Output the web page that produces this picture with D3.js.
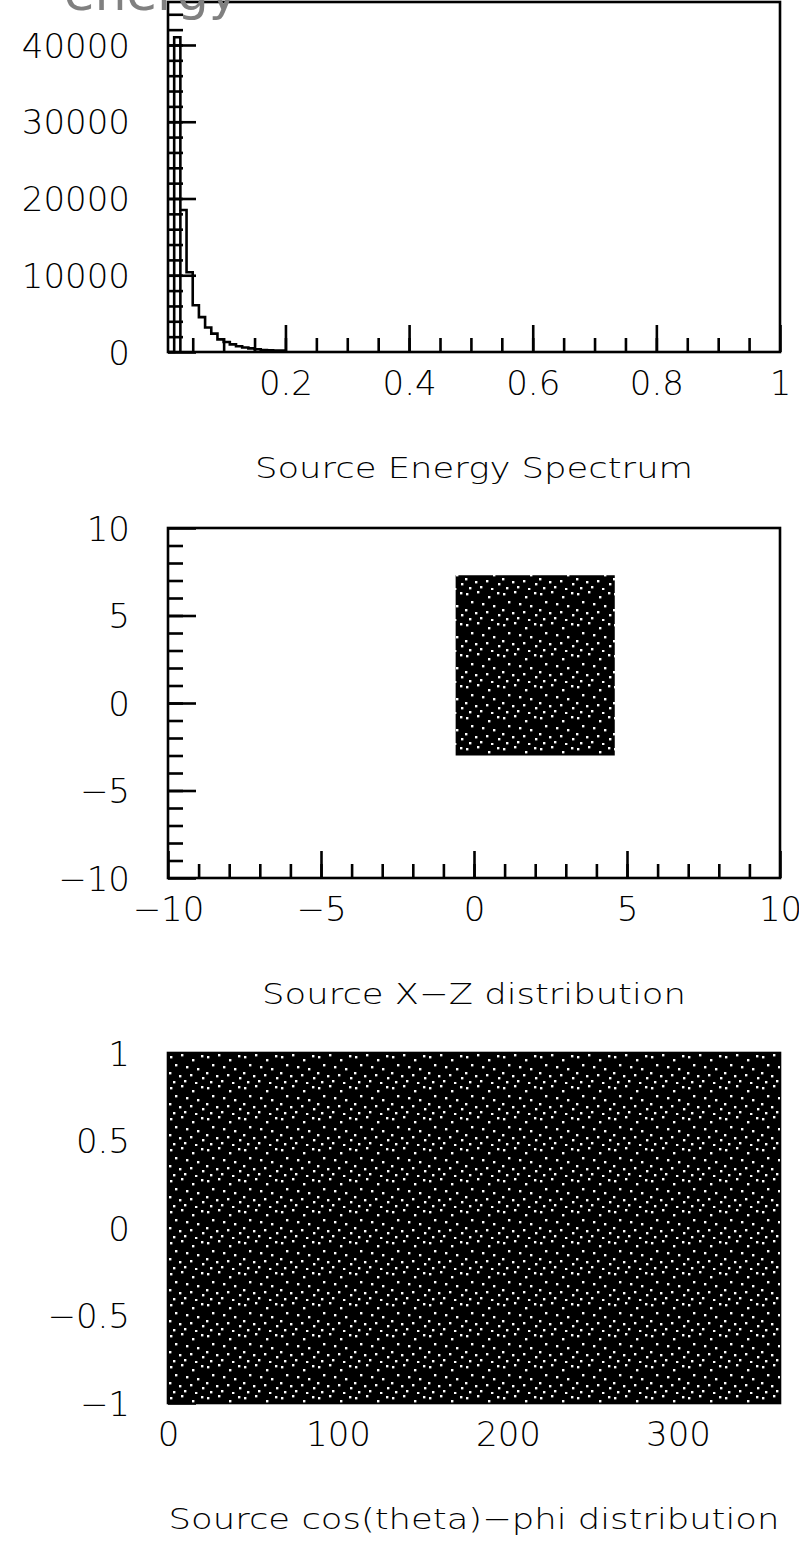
<!DOCTYPE html>
<html>
<head>
<meta charset="utf-8">
<script src="https://cdn.jsdelivr.net/npm/d3@7"></script>
<style>
  body { margin: 0; background: #fff; }
  svg text { font-family: "DejaVu Sans", Verdana, sans-serif; }
</style>
</head>
<body>
<div id="chart"></div>
<script>
// ---- data ----
// energy histogram, bin width 0.01
const energyBinEdges = [0.01, 0.02, 0.03, 0.04, 0.05, 0.06, 0.07, 0.08, 0.09, 0.10,
                        0.11, 0.12, 0.13, 0.14, 0.15, 0.16, 0.17, 0.18, 0.19, 0.20];
const energyCounts = [0, 41000, 18500, 10400, 6100, 4550, 3200, 2400, 1650, 1300,
                      1000, 750, 580, 470, 350, 250, 220, 200, 180];
const energyTicks = [0.2, 0.4, 0.6, 0.8, 1];
const energyTickLabels = ["0.2", "0.4", "0.6", "0.8", "1"];
const countTicks = [0, 10000, 20000, 30000, 40000];
const countTickLabels = ["0", "10000", "20000", "30000", "40000"];

// source X-Z distribution: the points fill a box
const sourceXRange = [-0.6, 4.6];
const sourceZRange = [-3.0, 7.3];
const xzTicks = [-10, -5, 0, 5, 10];
const xzTickLabels = ["\u221210", "\u22125", "0", "5", "10"];

// source cos(theta)-phi distribution: the points fill the whole frame
const phiRange = [0, 360];
const cosThetaRange = [-1, 1];
const phiTicks = [0, 100, 200, 300];
const phiTickLabels = ["0", "100", "200", "300"];
const cosTicks = [-1, -0.5, 0, 0.5, 1];
const cosTickLabels = ["\u22121", "\u22120.5", "0", "0.5", "1"];

const titles = ["Source Energy Spectrum", "Source X\u2212Z distribution",
                "Source cos(theta)\u2212phi distribution"];

// ---- layout ----
const width = 799;
const height = 1546;
const left = 168;
const W = 612;
const H = 350;
const tops = [2, 528, 1053];
const lw = 2.6;

const svg = d3.select("#chart")
    .append("svg")
    .attr("width", width)
    .attr("height", height);

// speckle texture for the densely filled scatter regions
const pat = svg.append("defs").append("pattern")
    .attr("id", "speckle")
    .attr("patternUnits", "userSpaceOnUse")
    .attr("width", 37)
    .attr("height", 31);
pat.append("rect").attr("width", 37).attr("height", 31).attr("fill", "#000");
[[2,3],[13,1],[24,6],[33,2],[7,11],[18,13],[29,15],[1,19],[11,22],[22,21],
 [34,24],[5,28],[16,27],[27,29]].forEach(p => {
    pat.append("rect").attr("x", p[0]).attr("y", p[1])
        .attr("width", 2.4).attr("height", 2.4).attr("fill", "#fff");
});

function makePanel(i, xDomain, yDomain) {
    const g = svg.append("g").attr("transform", `translate(${left},${tops[i]})`);
    const x = d3.scaleLinear().domain(xDomain).range([0, W]);
    const y = d3.scaleLinear().domain(yDomain).range([H, 0]);
    return { g, x, y };
}

function styleAxis(sel) {
    sel.select(".domain").remove();
    sel.selectAll(".tick line").attr("stroke", "#000").attr("stroke-width", lw);
    sel.selectAll("text")
        .attr("fill", "#000")
        .attr("font-size", 34)
        .attr("font-weight", 300)
        .attr("font-family", "DejaVu Sans, sans-serif");
}

function drawAxes(p, o) {
    // minor ticks
    p.g.append("g").attr("transform", `translate(0,${H})`)
        .call(d3.axisBottom(p.x).tickValues(o.xMinor).tickSize(-14).tickFormat(""))
        .call(styleAxis);
    p.g.append("g")
        .call(d3.axisLeft(p.y).tickValues(o.yMinor).tickSize(-15).tickFormat(""))
        .call(styleAxis);
    // major ticks and labels
    p.g.append("g").attr("transform", `translate(0,${H})`)
        .call(d3.axisBottom(p.x).tickValues(o.xMajor).tickSize(-27).tickPadding(19)
            .tickFormat((d, i) => o.xLabels[i]))
        .call(styleAxis);
    p.g.append("g")
        .call(d3.axisLeft(p.y).tickValues(o.yMajor).tickSize(-28).tickPadding(38)
            .tickFormat((d, i) => o.yLabels[i]))
        .call(styleAxis)
        .call(s => s.selectAll("text").attr("dy", "0.36em"));
}

function drawFrame(p) {
    p.g.append("rect")
        .attr("width", W).attr("height", H)
        .attr("fill", "none").attr("stroke", "#000").attr("stroke-width", lw);
}

function drawTitle(i) {
    const t = svg.append("text")
        .attr("x", left + W / 2)
        .attr("y", tops[i] + H + 126)
        .attr("text-anchor", "middle")
        .attr("font-size", 29)
        .attr("font-weight", 300)
        .attr("fill", "#000")
        .text(titles[i]);
    const len = t.node().getComputedTextLength();
    t.attr("textLength", len * 1.22).attr("lengthAdjust", "spacingAndGlyphs");
}

// ---- panel 1: energy histogram ----
const p1 = makePanel(0, [0.01, 1], [0, 45600]);
const histPts = [[energyBinEdges[0], 0]];
energyCounts.forEach((c, i) => {
    histPts.push([energyBinEdges[i], c]);
    histPts.push([energyBinEdges[i + 1], c]);
});
histPts.push([energyBinEdges[energyBinEdges.length - 1], 0]);
p1.g.append("path")
    .datum(histPts)
    .attr("fill", "none")
    .attr("stroke", "#000")
    .attr("stroke-width", lw)
    .attr("d", d3.line().x(d => p1.x(d[0])).y(d => p1.y(d[1])));
// the tallest bin is closed down to zero on its right side, as in the original
p1.g.append("line")
    .attr("x1", p1.x(energyBinEdges[2]))
    .attr("x2", p1.x(energyBinEdges[2]))
    .attr("y1", p1.y(0))
    .attr("y2", p1.y(energyCounts[2]))
    .attr("stroke", "#000").attr("stroke-width", lw);
drawAxes(p1, {
    xMinor: d3.range(0.05, 0.999, 0.05), xMajor: energyTicks, xLabels: energyTickLabels,
    yMinor: d3.range(2000, 45000, 2000), yMajor: countTicks, yLabels: countTickLabels
});
drawFrame(p1);
drawTitle(0);

// ---- panel 2: source X-Z ----
const p2 = makePanel(1, [-10, 10], [-10, 10]);
drawAxes(p2, {
    xMinor: d3.range(-9, 10, 1), xMajor: xzTicks, xLabels: xzTickLabels,
    yMinor: d3.range(-9, 10, 1), yMajor: xzTicks, yLabels: xzTickLabels
});
drawFrame(p2);
p2.g.append("rect")
    .attr("x", p2.x(sourceXRange[0]))
    .attr("y", p2.y(sourceZRange[1]))
    .attr("width", p2.x(sourceXRange[1]) - p2.x(sourceXRange[0]))
    .attr("height", p2.y(sourceZRange[0]) - p2.y(sourceZRange[1]))
    .attr("fill", "url(#speckle)");
drawTitle(1);

// ---- panel 3: cos(theta)-phi ----
const p3 = makePanel(2, [0, 360], [-1, 1]);
drawAxes(p3, {
    xMinor: d3.range(20, 360, 20), xMajor: phiTicks, xLabels: phiTickLabels,
    yMinor: d3.range(-0.9, 1, 0.1), yMajor: cosTicks, yLabels: cosTickLabels
});
drawFrame(p3);
p3.g.append("rect")
    .attr("x", p3.x(phiRange[0]))
    .attr("y", p3.y(cosThetaRange[1]))
    .attr("width", p3.x(phiRange[1]) - p3.x(phiRange[0]))
    .attr("height", p3.y(cosThetaRange[0]) - p3.y(cosThetaRange[1]))
    .attr("fill", "url(#speckle)");
drawTitle(2);

// gray axis title cut off at the top edge
svg.append("text")
    .attr("x", 64)
    .attr("y", 10)
    .attr("font-size", 50)
    .attr("fill", "#808080")
    .text("energy");
</script>
</body>
</html>
